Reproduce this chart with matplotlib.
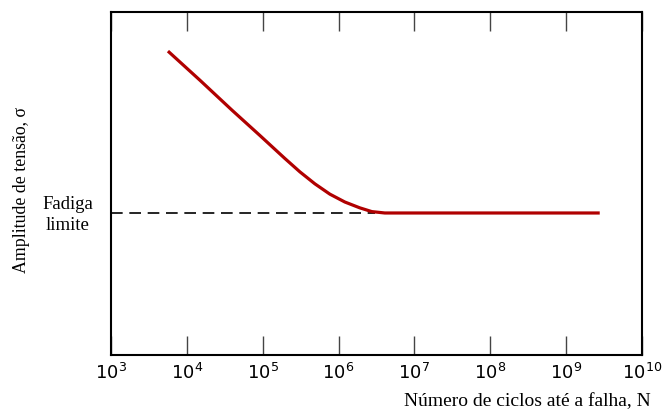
import numpy as np
import matplotlib
matplotlib.use("Agg")
import matplotlib.pyplot as plt

# S-N curve points (log10 N, relative stress amplitude)
log_n = [3.751, 4.173, 4.594, 4.963, 5.292, 5.490, 5.688, 5.885, 6.083,
         6.280, 6.439, 6.610, 9.443]
stress = [0.886, 0.801, 0.714, 0.640, 0.573, 0.534, 0.499, 0.469, 0.446,
          0.429, 0.418, 0.414, 0.414]
fatigue_limit = 0.414
dash_end = 6.48
decades = [3, 4, 5, 6, 7, 8, 9, 10]

fig = plt.figure(figsize=(6.63, 4.11), dpi=100)
ax = fig.add_axes([0.1674, 0.1363, 0.8009, 0.8345])

ax.plot([10 ** 3, 10 ** dash_end], [fatigue_limit, fatigue_limit],
        color="black", lw=1.2, dashes=(7, 4), zorder=1)
ax.plot([10 ** v for v in log_n], stress, color="#b00000", lw=2.3,
        solid_capstyle="butt", solid_joinstyle="round", zorder=2)

ax.set_xscale("log")
ax.set_xlim(1e3, 1e10)
ax.set_ylim(0, 1)
ax.set_xticks([10.0 ** d for d in decades])
ax.xaxis.set_minor_locator(matplotlib.ticker.NullLocator())
ax.set_yticks([])
ax.tick_params(axis="x", direction="in", top=True, length=14, width=1,
               color="#444444", labelsize=13, pad=6)
for s in ax.spines.values():
    s.set_linewidth(1.5)

serif = ["Liberation Serif", "DejaVu Serif"]
fig.text(527 / 663, 1 - 402 / 411, "Número de ciclos até a falha, N",
         ha="center", va="center", fontsize=14, family=serif)
fig.text(22 / 663, 1 - 190 / 411, "Amplitude de tensão, σ", rotation=90,
         ha="center", va="center", fontsize=12.8, family=serif)
fig.text(68 / 663, 1 - 215 / 411, "Fadiga\nlimite", ha="center", va="center",
         fontsize=13.5, family=serif, linespacing=1.3)

fig.savefig("out.png", dpi=100)
